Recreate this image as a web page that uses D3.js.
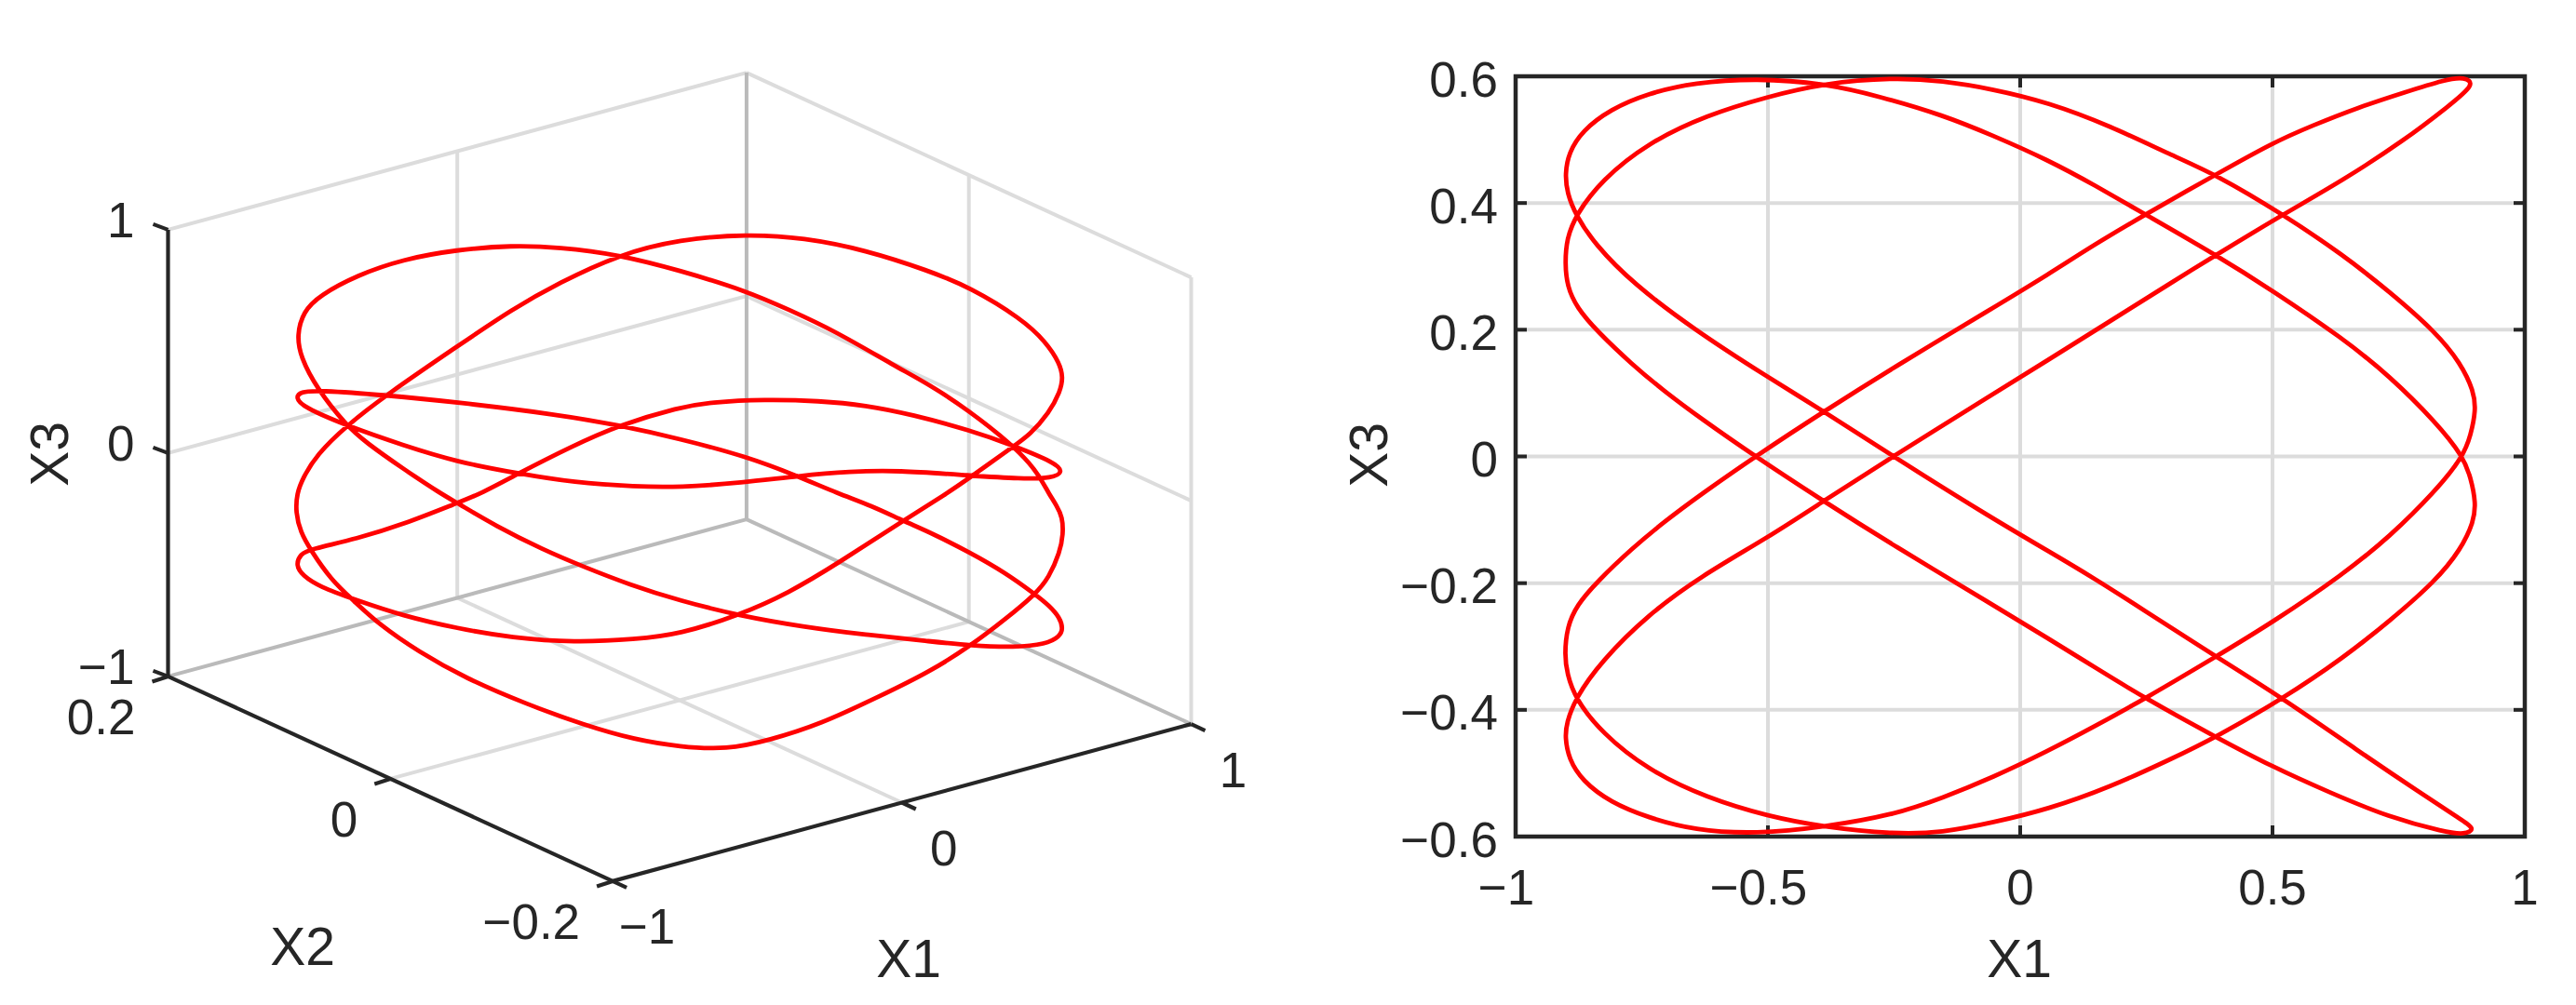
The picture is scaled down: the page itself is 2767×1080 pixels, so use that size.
<!DOCTYPE html>
<html><head><meta charset="utf-8">
<script src="https://cdn.jsdelivr.net/npm/d3@7"></script>
<style>html,body{margin:0;background:#fff}svg{display:block}text{font-family:"Liberation Sans",Arial,sans-serif;fill:#262626}</style>
</head><body><svg id="c" width="2767" height="1080"></svg>
<script>
// ---- right panel: X1 / X3 trajectory
const flatX1 = [
 .88,.843,.763,.67,.578,.5,.388,.248,.148,.055,
 -.055,-.252,-.389,-.525,-.633,-.707,-.769,-.839,-.879,-.898,
 -.903,-.898,-.882,-.83,-.738,-.621,-.5,-.389,-.252,-.154,
 -.055,.055,.178,.301,.388,.521,.64,.732,.824,.873,
 .899,.903,.893,.878,.824,.732,.64,.5,.388,.248,
 .148,.055,-.055,-.154,-.277,-.389,-.523,-.646,-.738,-.812,
 -.868,-.895,-.902,-.898,-.881,-.843,-.769,-.646,-.5,-.389,
 -.252,-.055,.055,.148,.24,.388,.521,.67,.793,.873,
 .903,.88,.843,.732,.609,.5,.388,.248,.148,.055,
 -.055,-.252,-.389,-.525,-.633,-.707,-.769,-.839,-.879,-.898,
 -.902,-.899,-.881,-.83,-.738,-.621,-.5,-.389,-.252,-.154,
 -.055,.055,.178,.301,.388,.521,.64,.732,.824,.873,
 .899,.903,.893,.878,.824,.732,.64,.5,.388,.248,
 .148,.055,-.055,-.154,-.252,-.389,-.523,-.646,-.738,-.812,
 -.868,-.895,-.902,-.899,-.882,-.83,-.738,-.633,-.5,-.389,
 -.252,-.055,.055,.178,.301,.388,.521,.64,.763,.849,
 .903];
const flatX3 = [
 .599,.595,.575,.551,.522,.495,.445,.382,.335,.287,
 .234,.14,.071,0,-.06,-.104,-.145,-.198,-.235,-.269,
 -.313,-.343,-.382,-.436,-.495,-.539,-.568,-.585,-.596,-.594,
 -.578,-.557,-.522,-.477,-.443,-.382,-.318,-.26,-.196,-.147,
 -.103,-.073,-.034,0,.054,.127,.186,.262,.318,.382,
 .428,.468,.507,.539,.568,.589,.597,.59,.573,.548,
 .514,.479,.446,.416,.381,.335,.274,.2,.125,.071,
 0,-.098,-.149,-.193,-.24,-.316,-.382,-.465,-.531,-.573,
 -.588,-.597,-.593,-.57,-.529,-.49,-.443,-.382,-.333,-.287,
 -.234,-.14,-.071,0,.06,.104,.145,.198,.235,.269,
 .304,.343,.381,.436,.495,.539,.568,.589,.598,.593,
 .58,.559,.522,.475,.445,.382,.318,.26,.196,.147,
 .103,.073,.034,0,-.054,-.127,-.186,-.262,-.316,-.382,
 -.426,-.465,-.507,-.539,-.566,-.585,-.596,-.59,-.57,-.546,
 -.512,-.477,-.443,-.421,-.382,-.323,-.25,-.189,-.128,-.07,
 0,.098,.152,.2135,.275,.318,.382,.436,.5,.553,
 .588];

// ---- left panel: X1 / X2 / X3 trajectory
const spaceX1 = [
 0,-.141,-.283,-.391,-.522,-.645,-.754,-.841,-.878,-.893,-.884,-.848,-.779,-.732,-.645,-.557,-.519,-.428,-.32,-.225,
 -.116,0,.138,.29,.435,.58,.681,.783,.855,.888,.895,.888,.862,.83,.761,.678,.593,.522,.449,.37,
 .279,.156,0,-.141,-.283,-.519,-.685,-.844,-.884,-.897,-.88,-.779,-.645,-.519,-.377,-.246,-.102,0,.145,.279,
 .398,.507,.681,.797,.87,.896,.877,.779,.678,.543,.435,.326,.196,.072,0,-.141,-.254,-.377,-.464,-.519,
 -.645,-.754,-.862,-.884,-.897,-.88,-.841,-.761,-.645,-.519,-.391,-.246,-.102,0,.138,.254,.37,.522,.623,.681,
 .779,.819,.862,.89,.895,.888,.855,.797,.678,.58,.435,.29,.156,0,-.141,-.283,-.391,-.519,-.685,-.779,-.848,
 -.88,-.893,-.897,-.884,-.862,-.812,-.761,-.703,-.609,-.5,-.355,-.225,-.102,0,.109,.21,.326,.471,.58,.681,
 .761,.83,.862,.888,.896,.893,.881,.862,.841,.819,.779,.674,.58,.507,.362,.254,.156];
const spaceX2 = [
 0,.018,.035,.049,.065,.081,.094,.105,.11,.112,.111,.106,.097,.092,.081,.07,.065,.054,.04,.028,
 .015,0,-.017,-.036,-.054,-.073,-.085,-.098,-.107,-.111,-.112,-.111,-.108,-.104,-.095,-.085,-.074,-.065,-.056,-.046,
 -.035,-.02,0,.018,.035,.065,.086,.106,.111,.112,.11,.097,.081,.065,.047,.031,.013,0,-.018,-.035,
 -.05,-.063,-.085,-.1,-.109,-.112,-.11,-.097,-.085,-.068,-.054,-.041,-.025,-.009,0,.018,.032,.047,.058,.065,
 .081,.094,.108,.111,.112,.11,.105,.095,.081,.065,.049,.031,.013,0,-.017,-.032,-.046,-.065,-.078,-.085,
 -.097,-.102,-.108,-.111,-.112,-.111,-.107,-.1,-.085,-.073,-.054,-.036,-.02,0,.018,.035,.049,.065,.086,.097,.106,
 .11,.112,.112,.111,.108,.102,.095,.088,.076,.063,.044,.028,.013,0,-.014,-.026,-.041,-.059,-.073,-.085,
 -.095,-.104,-.108,-.111,-.112,-.112,-.11,-.108,-.105,-.102,-.097,-.084,-.073,-.063,-.045,-.032,-.02];
const spaceX3 = [
 .925,1.004,1.048,1.062,1.052,1.016,.953,.868,.798,.692,.594,.453,.281,.202,.078,-.039,-.083,-.193,-.304,-.387,
 -.476,-.554,-.63,-.691,-.736,-.772,-.8,-.814,-.805,-.772,-.738,-.688,-.631,-.58,-.479,-.383,-.294,-.231,-.159,-.099,
 -.017,.082,.171,.24,.298,.368,.41,.442,.438,.414,.371,.281,.183,.1,.04,-.01,-.038,-.047,-.036,-.013,
 -.001,-.004,-.039,-.06,-.062,-.036,.007,.09,.165,.244,.292,.32,.336,.33,.3125,.24,.15,.04,-.045,-.083,
 -.172,-.227,-.269,-.288,-.337,-.385,-.437,-.498,-.581,-.645,-.695,-.726,-.721,-.704,-.63,-.536,-.412,-.231,-.116,-.044,
 .083,.135,.23,.325,.388,.45,.55,.658,.805,.887,.987,1.052,1.078,1.064,1.004,.888,.776,.618,.41,.281,.154,
 .052,-.017,-.1,-.191,-.269,-.411,-.505,-.613,-.744,-.869,-.996,-1.095,-1.172,-1.208,-1.228,-1.193,-1.13,-1.009,-.912,-.8,
 -.687,-.58,-.506,-.396,-.314,-.237,-.187,-.131,-.054,.005,.09,.256,.379,.459,.631,.733,.823];

// ---- tick labels
const flatXTicks = [-1,-.5,0,.5,1];
const flatYTicks = [-.6,-.4,-.2,0,.2,.4,.6];
const spaceX1Ticks = [-1,0,1];
const spaceX2Ticks = [-.2,0,.2];
const spaceX3Ticks = [-1,0,1];
const axisLabels = {x1:"X1", x2:"X2", x3:"X3"};

const RED="#ff0000", INK="#262626", GRID="#dcdcdc", GRID2="#bababa", FS=53, FL=57, LW=4.8;
const svg=d3.select("#c");
const fmt=v=>(v<0?"\u2212":"")+String(Math.abs(v));

// ======= right panel
const L=1628,R=2712,T=82,B=899;
const xs=d3.scaleLinear([-1,1],[L,R]), ys=d3.scaleLinear([-.6,.6],[B,T]);
const gr=svg.append("g");
gr.selectAll(".gx").data(flatXTicks.slice(1,-1)).join("line")
  .attr("x1",xs).attr("x2",xs).attr("y1",T).attr("y2",B).attr("stroke",GRID).attr("stroke-width",4);
gr.selectAll(".gy").data(flatYTicks.slice(1,-1)).join("line")
  .attr("y1",ys).attr("y2",ys).attr("x1",L).attr("x2",R).attr("stroke",GRID).attr("stroke-width",4);
const tickLen=12;
flatXTicks.slice(1,-1).forEach(v=>{[[B,B-tickLen],[T,T+tickLen]].forEach(p=>gr.append("line")
  .attr("x1",xs(v)).attr("x2",xs(v)).attr("y1",p[0]).attr("y2",p[1]).attr("stroke",INK).attr("stroke-width",4));});
flatYTicks.slice(1,-1).forEach(v=>{[[L,L+tickLen],[R,R-tickLen]].forEach(p=>gr.append("line")
  .attr("y1",ys(v)).attr("y2",ys(v)).attr("x1",p[0]).attr("x2",p[1]).attr("stroke",INK).attr("stroke-width",4));});
gr.append("rect").attr("x",L).attr("y",T).attr("width",R-L).attr("height",B-T)
  .attr("fill","none").attr("stroke",INK).attr("stroke-width",4.5);
const flatLine=d3.line().x(i=>xs(flatX1[i])).y(i=>ys(flatX3[i])).curve(d3.curveBasisClosed);
gr.append("path").attr("d",flatLine(d3.range(flatX1.length))).attr("fill","none").attr("stroke",RED).attr("stroke-width",LW).attr("stroke-linejoin","round");
gr.selectAll(".xl").data(flatXTicks).join("text").attr("x",v=>xs(v)-(v<0?10:0)).attr("y",953).attr("dy",".35em")
  .attr("text-anchor","middle").attr("font-size",FS).text(fmt);
gr.selectAll(".yl").data(flatYTicks).join("text").attr("x",1609).attr("y",v=>ys(v)+3).attr("dy",".35em")
  .attr("text-anchor","end").attr("font-size",FS).text(fmt);
gr.append("text").attr("x",2169).attr("y",1030).attr("dy",".35em").attr("text-anchor","middle").attr("font-size",FL).text(axisLabels.x1);
gr.append("text").attr("transform","translate(1470,489) rotate(-90)").attr("dy",".35em").attr("text-anchor","middle").attr("font-size",FL).text(axisLabels.x3);

// ======= left panel: axonometric projection built from three linear scales
const OX=730,OY=752.5;
const a1x=d3.scaleLinear([-1,1],[-310.7,310.7]), a1y=d3.scaleLinear([-1,1],[84.4,-84.4]);
const a2x=d3.scaleLinear([-.2,.2],[238.8,-238.8]), a2y=d3.scaleLinear([-.2,.2],[110,-110]);
const a3y=d3.scaleLinear([-1,1],[0,-480]);
const P=(a,b,c)=>[OX+a1x(a)+a2x(b), OY+a1y(a)+a2y(b)+a3y(c)];
const gl=svg.append("g");
const seg=(p,q,col,w)=>gl.append("line").attr("x1",p[0]).attr("y1",p[1]).attr("x2",q[0]).attr("y2",q[1]).attr("stroke",col).attr("stroke-width",w);
const W=4;
// walls
[1].forEach(c=>{seg(P(-1,.2,c),P(1,.2,c),GRID,W);seg(P(1,.2,c),P(1,-.2,c),GRID,W);});
seg(P(-1,.2,0),P(1,.2,0),GRID,W);seg(P(1,.2,0),P(1,-.2,0),GRID,W);
seg(P(0,.2,-1),P(0,.2,1),GRID,W);seg(P(1,0,-1),P(1,0,1),GRID,W);seg(P(1,-.2,-1),P(1,-.2,1),GRID,W);
// floor
seg(P(0,.2,-1),P(0,-.2,-1),GRID,W);seg(P(-1,0,-1),P(1,0,-1),GRID,W);
seg(P(-1,.2,-1),P(1,.2,-1),GRID2,W);seg(P(1,.2,-1),P(1,-.2,-1),GRID2,W);seg(P(1,.2,-1),P(1,.2,1),GRID2,W);
// black axes
const AW=4.2;
seg(P(-1,.2,-1),P(-1,.2,1),INK,AW);seg(P(-1,.2,-1),P(-1,-.2,-1),INK,AW);seg(P(-1,-.2,-1),P(1,-.2,-1),INK,AW);
const tk=(p,dx,dy)=>seg(p,[p[0]+dx,p[1]+dy],INK,AW);
spaceX3Ticks.forEach(v=>tk(P(-1,.2,v),-16,-6));
spaceX2Ticks.forEach(v=>tk(P(-1,v,-1),-17,5.5));
spaceX1Ticks.forEach(v=>tk(P(v,-.2,-1),15,7));
const spaceLine=d3.line().x(i=>P(spaceX1[i],spaceX2[i],spaceX3[i])[0]).y(i=>P(spaceX1[i],spaceX2[i],spaceX3[i])[1]).curve(d3.curveBasisClosed);
gl.append("path").attr("d",spaceLine(d3.range(spaceX1.length))).attr("fill","none").attr("stroke",RED).attr("stroke-width",LW).attr("stroke-linejoin","round");
const lab=(p,dx,dy,t,anc,fs)=>gl.append("text").attr("x",p[0]+dx).attr("y",p[1]+dy).attr("dy",".35em").attr("text-anchor",anc).attr("font-size",fs||FS).text(t);
spaceX3Ticks.forEach(v=>lab(P(-1,.2,v),-36,-10,fmt(v),"end"));
spaceX2Ticks.forEach(v=>lab(P(-1,v,-1),-35,44,fmt(v),"end"));
spaceX1Ticks.forEach(v=>lab(P(v,-.2,-1),v<0?37:45,49,fmt(v),"middle"));
gl.append("text").attr("transform","translate(53,488) rotate(-90)").attr("dy",".35em").attr("text-anchor","middle").attr("font-size",FL).text(axisLabels.x3);
gl.append("text").attr("x",325).attr("y",1017).attr("dy",".35em").attr("text-anchor","middle").attr("font-size",FL).text(axisLabels.x2);
gl.append("text").attr("x",976).attr("y",1030).attr("dy",".35em").attr("text-anchor","middle").attr("font-size",FL).text(axisLabels.x1);
</script></body></html>
